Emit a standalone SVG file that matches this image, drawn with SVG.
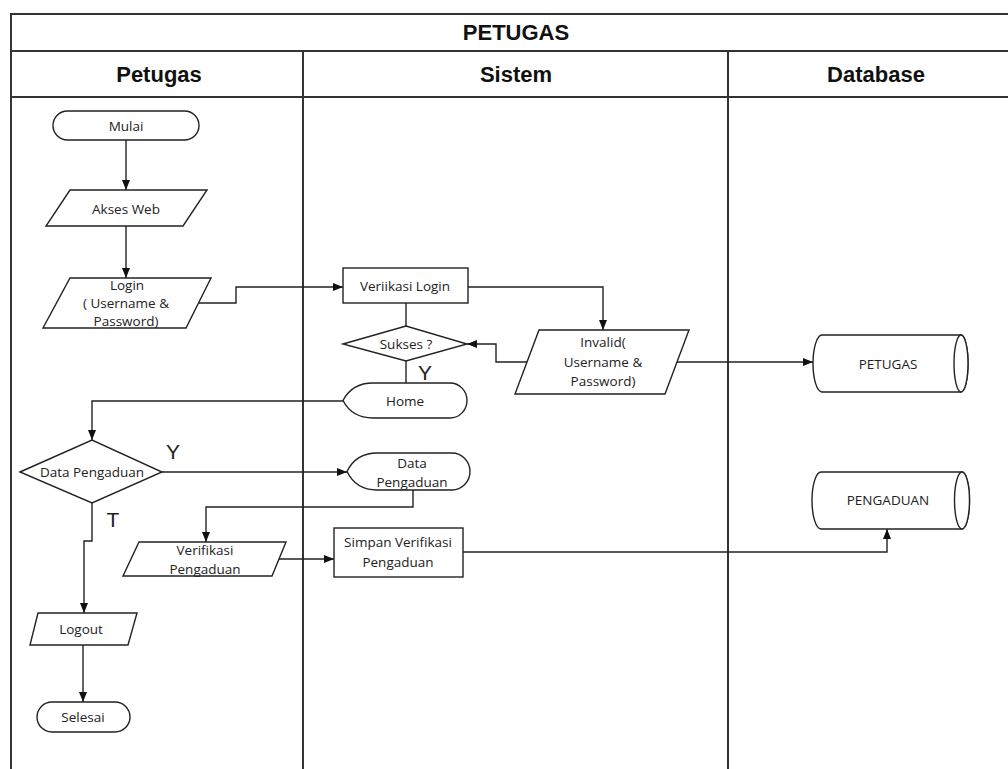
<svg xmlns="http://www.w3.org/2000/svg" width="1008" height="769" viewBox="0 0 1008 769">
<style>
.frame{fill:none;stroke:#333;stroke-width:2}
.hdr{font-family:"Liberation Sans",Arial,sans-serif;font-weight:bold;font-size:22px;fill:#111;text-anchor:middle;dominant-baseline:central}
.shape{fill:#fff;stroke:#222;stroke-width:1.4}
.t{font-family:"Open Sans","Noto Sans",sans-serif;font-size:13.5px;fill:#222;text-anchor:middle;dominant-baseline:central}
.lbl{font-family:"Liberation Sans",Arial,sans-serif;font-size:21px;fill:#222;text-anchor:middle;dominant-baseline:central}
.c{fill:none;stroke:#222;stroke-width:1.4}
.a{marker-end:url(#arr)}
</style>
<defs>
<marker id="arr" viewBox="0 0 10 10" refX="10" refY="5" markerWidth="10" markerHeight="10" markerUnits="userSpaceOnUse" orient="auto">
<path d="M0,1 L10,5 L0,9 Z" fill="#111"/>
</marker>
</defs>
<rect width="1008" height="769" fill="#fff"/>
<g id="swimlanes">
<path class="frame" d="M11,769 V14 H1021 M11,51 H1021 M11,97 H1021 M303,51 V769 M728,51 V769"/>
<text class="hdr" x="516" y="32">PETUGAS</text>
<text class="hdr" x="159" y="74">Petugas</text>
<text class="hdr" x="516" y="74">Sistem</text>
<text class="hdr" x="876" y="74">Database</text>
</g>
<g id="connectors">
<path class="c a" d="M126,140 V190"/>
<path class="c a" d="M126,226 V278"/>
<path class="c a" d="M199,303 H236 V287 H343"/>
<path class="c a" d="M468,287 H603 V330"/>
<path class="c" d="M406,303 V326"/>
<path class="c a" d="M527,362 H496 V344 H467"/>
<path class="c" d="M406,361 V383"/>
<path class="c a" d="M677,362 H813"/>
<path class="c a" d="M343,401 H92 V440"/>
<path class="c a" d="M162,472 H347"/>
<path class="c a" d="M413,490 V507 H206 V542"/>
<path class="c a" d="M92,503 V541 H84 V613"/>
<path class="c a" d="M279,559 H334"/>
<path class="c a" d="M463,552 H887 V529"/>
<path class="c a" d="M83,645 V702"/>
<text class="lbl" x="425" y="372">Y</text>
<text class="lbl" x="173" y="451">Y</text>
<text class="lbl" x="113" y="519">T</text>
</g>
<g id="mulai">
<rect class="shape" x="53" y="111" width="146" height="29" rx="14.5"/>
<text class="t" x="126" y="126">Mulai</text>
</g>
<g id="akses-web">
<path class="shape" d="M70,190 H207 L183,226 H46 Z"/>
<text class="t" x="126" y="209">Akses Web</text>
</g>
<g id="login">
<path class="shape" d="M70,278 H211 L186,328 H43 Z"/>
<text class="t" x="127" y="285">Login</text>
<text class="t" x="126" y="303">( Username &amp;</text>
<text class="t" x="126" y="321">Password)</text>
</g>
<g id="verifikasi-login">
<rect class="shape" x="343" y="268" width="125" height="35"/>
<text class="t" x="405" y="286">Veriikasi Login</text>
</g>
<g id="sukses">
<path class="shape" d="M343,344 L406,326 L467,344 L406,361 Z"/>
<text class="t" x="406" y="344">Sukses ?</text>
</g>
<g id="invalid">
<path class="shape" d="M539,330 H689 L665,394 H515 Z"/>
<text class="t" x="603" y="342">Invalid(</text>
<text class="t" x="603" y="362">Username &amp;</text>
<text class="t" x="603" y="381">Password)</text>
</g>
<g id="home">
<path class="shape" d="M343,400.5 Q352,383 373,383 H450 A17,17.5 0 0 1 450,418 H373 Q352,418 343,400.5 Z"/>
<text class="t" x="405" y="401">Home</text>
</g>
<g id="db-petugas">
<path class="shape" d="M822,335 H961 A7,28.5 0 0 1 961,392 H822 A9,28.5 0 0 1 822,335 Z"/>
<ellipse class="shape" cx="961" cy="363.5" rx="7" ry="28.5"/>
<text class="t" x="888" y="364">PETUGAS</text>
</g>
<g id="data-pengaduan-decision">
<path class="shape" d="M20,472 L92,440 L162,472 L92,503 Z"/>
<text class="t" x="92" y="472">Data Pengaduan</text>
</g>
<g id="data-pengaduan-display">
<path class="shape" d="M347,471.5 Q356,453 377,453 H452 A18,18.5 0 0 1 452,490 H377 Q356,490 347,471.5 Z"/>
<text class="t" x="412" y="463">Data</text>
<text class="t" x="412" y="482">Pengaduan</text>
</g>
<g id="db-pengaduan">
<path class="shape" d="M821,472 H962 A7.5,28.5 0 0 1 962,529 H821 A9,28.5 0 0 1 821,472 Z"/>
<ellipse class="shape" cx="962" cy="500.5" rx="7.5" ry="28.5"/>
<text class="t" x="888" y="500">PENGADUAN</text>
</g>
<g id="verifikasi-pengaduan">
<path class="shape" d="M139,542 H286 L272,576 H123 Z"/>
<text class="t" x="205" y="550">Verifikasi</text>
<text class="t" x="205" y="569">Pengaduan</text>
</g>
<g id="simpan-verifikasi">
<rect class="shape" x="334" y="528" width="129" height="49"/>
<text class="t" x="398" y="542">Simpan Verifikasi</text>
<text class="t" x="398" y="562">Pengaduan</text>
</g>
<g id="logout">
<path class="shape" d="M38,613 H137 L128,645 H30 Z"/>
<text class="t" x="81" y="629">Logout</text>
</g>
<g id="selesai">
<rect class="shape" x="37" y="702" width="93" height="30" rx="15"/>
<text class="t" x="83" y="717">Selesai</text>
</g>
</svg>
